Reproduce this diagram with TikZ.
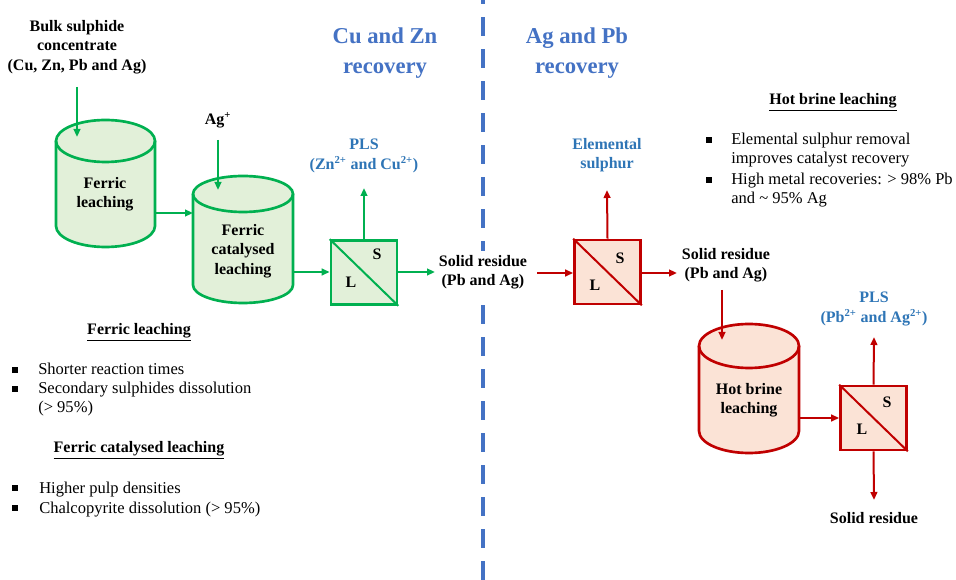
\documentclass[tikz,border=0pt]{standalone}
\usepackage{fontspec}
\setmainfont{Liberation Serif}
\usetikzlibrary{arrows.meta}
\definecolor{gstroke}{HTML}{00B050}
\definecolor{gfill}{HTML}{E2F0D9}
\definecolor{rstroke}{HTML}{C00000}
\definecolor{rfill}{HTML}{FBE3D6}
\definecolor{headblue}{HTML}{4472C4}
\definecolor{plsblue}{HTML}{2E75B6}
\newcommand\tank[8]{%
  \fill[#8] (#2-#5,#3) -- (#2-#5,#4) arc[start angle=180,end angle=0,x radius=#5,y radius=#6] -- (#2+#5,#3) arc[start angle=0,end angle=-180,x radius=#5,y radius=#6] -- cycle;
  \draw[tankline,#7] (#2-#5,#3) -- (#2-#5,#4) arc[start angle=180,end angle=0,x radius=#5,y radius=#6] -- (#2+#5,#3);
  \draw[tankline,#7] (#2,#3) ellipse[x radius=#5,y radius=#6];
  \coordinate (#1) at (#2,#3);
}
\tikzset{
  lbl/.style={font=\fontsize{12}{14.6}\selectfont\bfseries, align=center, inner sep=1pt},
  body/.style={font=\fontsize{12.4}{14.6}\selectfont, align=left, inner sep=0pt, anchor=base west},
  head/.style={font=\fontsize{17}{22.5}\selectfont\bfseries, align=center, text=headblue},
  tankline/.style={line width=2pt},
  sepbox/.style={draw, line width=2pt, minimum width=49.5pt, minimum height=48pt, inner sep=0pt},
  flow/.style={line width=1.5pt, -{Triangle[length=6pt,width=5pt]}},
  bul/.style={fill=black, minimum size=4pt, inner sep=0pt},
}
\begin{document}
\begin{tikzpicture}[x=0.75pt,y=-0.75pt]
\useasboundingbox (0,0) rectangle (956,580);
\fill[white] (0,0) rectangle (956,580);
% divider
\draw[headblue, line width=2.5pt, dash pattern=on 14 off 10, dash phase=-13] (483,0) -- (483,580);
% headings
\node[head] (h1) at (385,53) {Cu and Zn\\recovery};
\node[head] (h2) at (577,53) {Ag and Pb\\recovery};
% ---------- green part ----------
\node[lbl] (bulk) at (77,47) {Bulk sulphide\\concentrate\\(Cu, Zn, Pb and Ag)};
\tank{t1}{105.5}{141}{226}{49.5}{21}{gstroke}{gfill}
\tank{t2}{243}{194}{285}{50}{18}{gstroke}{gfill}
\node[lbl] (t1txt) at (105,194) {Ferric\\leaching};
\node[lbl] (t2txt) at (243,251) {Ferric\\catalysed\\leaching};
\node[lbl] (agp) at (218,120) {Ag\textsuperscript{+}};
\node[sepbox, gstroke, fill=gfill] (s1) at (364,272.5) {};
\draw[gstroke, line width=1.5pt] (s1.north west) -- (s1.south east);
\node[lbl] (s1S) at (377,254) {S};
\node[lbl] (s1L) at (351,282) {L};
\node[lbl, text=plsblue] (pls1) at (364,156) {PLS\\(Zn\textsuperscript{2+} and Cu\textsuperscript{2+})};
\node[lbl, fill=white, inner sep=3pt] (sol1) at (483,272) {Solid residue\\(Pb and Ag)};
\coordinate (b0) at (77,87); \coordinate (b1) at (77,137);
\coordinate (a0) at (218,140); \coordinate (a1) at (218,190);
\coordinate (c1o) at (155,213); \coordinate (c2i) at (193,213);
\coordinate (c2o) at (293,272);
\coordinate (p1) at (364,188);
\coordinate (r1) at (435,272);
\draw[flow, gstroke] (b0) -- (b1);
\draw[flow, gstroke] (a0) -- (a1);
\draw[flow, gstroke] (c1o) -- (c2i);
\draw[flow, gstroke] (c2o) -- (s1.west |- c2o);
\draw[flow, gstroke] (s1.north) -- (p1);
\draw[flow, gstroke] (s1.east |- r1) -- (r1);
% ---------- red part ----------
\node[sepbox, rstroke, fill=rfill] (s2) at (607.5,272) {};
\draw[rstroke, line width=1.5pt] (s2.north west) -- (s2.south east);
\node[lbl] (s2S) at (620,258) {S};
\node[lbl] (s2L) at (595,285) {L};
\node[lbl, text=plsblue] (els) at (607,155) {Elemental\\sulphur};
\node[lbl] (sol2) at (726,265) {Solid residue\\(Pb and Ag)};
\tank{t3}{749}{346}{431}{50}{22}{rstroke}{rfill}
\node[lbl] (t3txt) at (749,400) {Hot brine\\leaching};
\node[sepbox, rstroke, fill=rfill] (s3) at (873.5,418) {};
\draw[rstroke, line width=1.5pt] (s3.north west) -- (s3.south east);
\node[lbl] (s3S) at (887,402) {S};
\node[lbl] (s3L) at (862,429) {L};
\node[lbl, text=plsblue] (pls3) at (874,309) {PLS\\(Pb\textsuperscript{2+} and Ag\textsuperscript{2+})};
\node[lbl] (sol3) at (874,518) {Solid residue};
\coordinate (q0) at (537,273);
\coordinate (e1) at (607,190);
\coordinate (q1) at (677,273);
\coordinate (d0) at (722,290); \coordinate (d1) at (722,340);
\coordinate (c3o) at (799,418);
\coordinate (p3) at (874,337);
\coordinate (z3) at (874,500);
\draw[flow, rstroke] (q0) -- (s2.west |- q0);
\draw[flow, rstroke] (s2.north) -- (e1);
\draw[flow, rstroke] (s2.east |- q1) -- (q1);
\draw[flow, rstroke] (d0) -- (d1);
\draw[flow, rstroke] (c3o) -- (s3.west |- c3o);
\draw[flow, rstroke] (s3.north) -- (p3);
\draw[flow, rstroke] (s3.south) -- (z3);
% ---------- notes left ----------
\node[lbl, anchor=base] (n1h) at (139,335) {\underline{Ferric leaching}};
\node[bul] (n1b1) at (15,370) {};
\node[body] (n1t1) at (38,375) {Shorter reaction times};
\node[bul] (n1b2) at (15,389) {};
\node[body] (n1t2) at (38,413) {Secondary sulphides dissolution\\(> 95\%)};
\node[lbl, anchor=base] (n2h) at (139,453) {\underline{Ferric catalysed leaching}};
\node[bul] (n2b1) at (15,488) {};
\node[body] (n2t1) at (39,493) {Higher pulp densities};
\node[bul] (n2b2) at (15,508) {};
\node[body] (n2t2) at (39,513) {Chalcopyrite dissolution (> 95\%)};
% ---------- notes right ----------
\node[lbl, anchor=base] (n3h) at (833,105) {\underline{Hot brine leaching}};
\node[bul] (n3b1) at (709,140) {};
\node[body] (n3t1) at (731,164) {Elemental sulphur removal\\improves catalyst recovery};
\node[bul] (n3b2) at (709,180) {};
\node[body] (n3t2) at (731,204) {High metal recoveries: > 98\% Pb\\and \textasciitilde\ 95\% Ag};
\end{tikzpicture}
\end{document}
